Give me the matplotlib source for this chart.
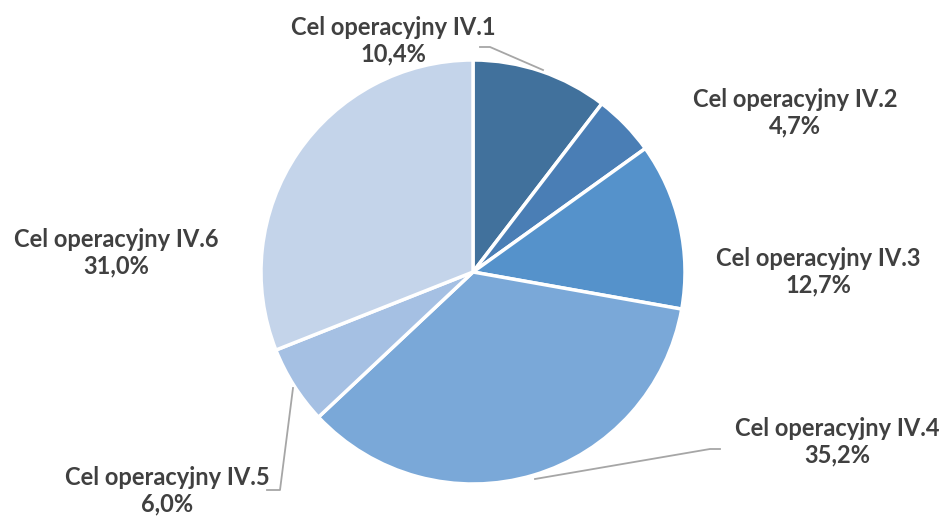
import matplotlib.pyplot as plt

# Dane
cele = ['Cel operacyjny IV.1', 'Cel operacyjny IV.2', 'Cel operacyjny IV.3',
        'Cel operacyjny IV.4', 'Cel operacyjny IV.5', 'Cel operacyjny IV.6']
udzialy = [10.4, 4.7, 12.7, 35.2, 6.0, 31.0]
kolory = ['#41719c', '#4a7eb5', '#5592cb', '#7aa8d8', '#a5c0e3', '#c4d4ea']

# pozycje etykiet (w pikselach, od góry obrazka)
pozycje = [(393, 41), (795, 113), (818, 272), (837, 442), (167, 491), (116, 253)]

plt.rcParams['font.family'] = ['Lato', 'DejaVu Sans']

W, H = 944, 516
fig = plt.figure(figsize=(9.44, 5.16), dpi=100)
ax = fig.add_axes([0, 0, 1, 1])

ax.pie(udzialy, colors=kolory, startangle=90, counterclock=False,
       center=(473, H - 272), radius=212, frame=True,
       wedgeprops={'edgecolor': 'white', 'linewidth': 2.5})
ax.set_xlim(0, W)
ax.set_ylim(0, H)
ax.set_aspect('equal')
ax.axis('off')

for nazwa, u, (x, y) in zip(cele, udzialy, pozycje):
    tekst = nazwa + '\n' + f'{u:.1f}'.replace('.', ',') + '%'
    ax.text(x, H - y, tekst, ha='center', va='center', fontsize=17,
            fontweight='bold', color='#404040', linespacing=1.2)

# linie odniesienia
szary = '#a6a6a6'
ax.plot([480, 490, 543], [H - 47, H - 47, H - 70], color=szary, lw=1.3)
ax.plot([535, 710, 720], [H - 479, H - 449, H - 449], color=szary, lw=1.3)
ax.plot([293, 280, 267], [H - 388, H - 490, H - 490], color=szary, lw=1.3)

fig.savefig('out.png', dpi=100)
